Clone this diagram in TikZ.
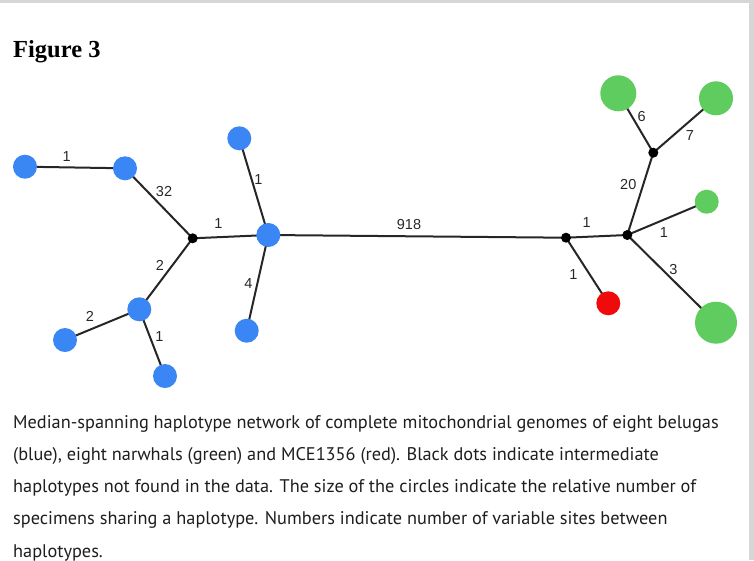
\documentclass[tikz,border=0pt]{standalone}
\usepackage{fontspec}
\setmainfont{Liberation Serif}
\newfontfamily\labfont{Liberation Sans}
\newfontfamily\capfont{PT Sans}
\usetikzlibrary{backgrounds}
\definecolor{hblue}{RGB}{58,134,244}
\definecolor{hgreen}{RGB}{94,204,94}
\definecolor{hred}{RGB}{240,10,12}
\definecolor{lab}{RGB}{40,40,40}
\definecolor{frame}{RGB}{214,214,214}
\definecolor{captxt}{RGB}{30,30,30}
\tikzset{
  hap/.style={circle, inner sep=0pt, minimum size=#1},
  bel/.style={hap=24pt, fill=hblue},
  nar/.style={fill=hgreen},
  mce/.style={hap=24pt, fill=hred},
  med/.style={circle, inner sep=0pt, minimum size=10pt, fill=black},
  link/.style={draw=black!85, line width=2pt},
  elab/.style={font=\labfont\fontsize{14.5}{16}\selectfont, text=lab, inner sep=0pt},
  capline/.style={anchor=base west, inner sep=0pt, text=captxt, font=\capfont\fontsize{18.3}{20}\selectfont},
}
\begin{document}
\begin{tikzpicture}[x=1pt, y=-1pt]
\path[use as bounding box] (0,0) rectangle (754,560);
\fill[frame] (0,0) rectangle (754,3);
\fill[frame] (749,0) rectangle (754,560);
\node[anchor=base west, inner sep=0pt, font=\bfseries\fontsize{24.5}{27}\selectfont] (title) at (13,57) {Figure 3};
% belugas
\node[bel] (A) at (25,166.7) {};
\node[bel] (B) at (125,168.3) {};
\node[med] (J1) at (192.7,238.3) {};
\node[bel] (C) at (268.3,235) {};
\node[bel] (D) at (239.3,138.3) {};
\node[bel] (E) at (246.7,330.7) {};
\node[bel] (F) at (139.3,309.3) {};
\node[bel] (G) at (65,340) {};
\node[bel] (H) at (165,376) {};
% narwhals and MCE
\node[med] (J2) at (566,237.7) {};
\node[med] (J3) at (627.3,235) {};
\node[med] (J4) at (653.3,152.7) {};
\node[hap=36pt, nar] (K) at (618.3,93.3) {};
\node[hap=34pt, nar] (L) at (716,98.3) {};
\node[hap=24pt, nar] (M) at (706.7,201.7) {};
\node[hap=42pt, nar] (O) at (716,322.7) {};
\node[mce] (N) at (608.3,303.3) {};
\begin{scope}[on background layer]
\draw[link] (A.center) -- (B.center);
\draw[link] (B.center) -- (J1.center);
\draw[link] (J1.center) -- (C.center);
\draw[link] (C.center) -- (D.center);
\draw[link] (C.center) -- (E.center);
\draw[link] (J1.center) -- (F.center);
\draw[link] (F.center) -- (G.center);
\draw[link] (F.center) -- (H.center);
\draw[link] (C.center) -- (J2.center);
\draw[link] (J2.center) -- (J3.center);
\draw[link] (J2.center) -- (N.center);
\draw[link] (J3.center) -- (J4.center);
\draw[link] (J4.center) -- (K.center);
\draw[link] (J4.center) -- (L.center);
\draw[link] (J3.center) -- (M.center);
\draw[link] (J3.center) -- (O.center);
\end{scope}
% edge labels
\node[elab] (lAB) at (66.7,156.7) {1};
\node[elab] (lBJ) at (164,191.7) {32};
\node[elab] (lJC) at (218.3,224) {1};
\node[elab] (lCD) at (258.3,179.3) {1};
\node[elab] (lCE) at (248.3,283.3) {4};
\node[elab] (lJF) at (160,265) {2};
\node[elab] (lFG) at (90,316) {2};
\node[elab] (lFH) at (159.3,336.7) {1};
\node[elab] (lCJ) at (409,224.5) {918};
\node[elab] (lJJ) at (586.7,223) {1};
\node[elab] (lJN) at (573.3,275) {1};
\node[elab] (lJ34) at (628.3,185) {20};
\node[elab] (lK) at (641.7,116.7) {6};
\node[elab] (lL) at (690,136) {7};
\node[elab] (lM) at (664,232.7) {1};
\node[elab] (lO) at (673.3,269.3) {3};
% caption
\node[capline] (c1) at (13,428) {Median-spanning haplotype network of complete mitochondrial genomes of eight belugas};
\node[capline] (c2) at (13,460) {(blue), eight narwhals (green) and MCE1356 (red). Black dots indicate intermediate};
\node[capline] (c3) at (13,492) {haplotypes not found in the data. The size of the circles indicate the relative number of};
\node[capline] (c4) at (13,524) {specimens sharing a haplotype. Numbers indicate number of variable sites between};
\node[capline] (c5) at (13,557) {haplotypes.};
\end{tikzpicture}
\end{document}
